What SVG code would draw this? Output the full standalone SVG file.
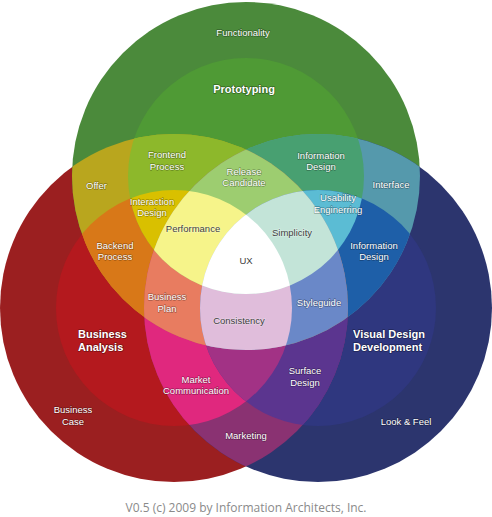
<svg xmlns="http://www.w3.org/2000/svg" width="492" height="517" viewBox="0 0 492 517">
<style>
.l{font-family:"Liberation Sans",Arial,sans-serif;font-size:9.5px;fill:#fff;text-anchor:middle;stroke:rgba(0,0,0,0.3);stroke-width:1.3px;paint-order:stroke;stroke-linejoin:round}
.b{font-family:"Liberation Sans",Arial,sans-serif;font-size:11px;font-weight:bold;fill:#fff;stroke:rgba(0,0,0,0.35);stroke-width:1.5px;paint-order:stroke;stroke-linejoin:round}
.d{font-family:"Liberation Sans",Arial,sans-serif;font-size:9.5px;fill:#404040;text-anchor:middle;stroke:rgba(255,255,255,0.4);stroke-width:1.2px;paint-order:stroke}
.f{font-family:"Open Sans","DejaVu Sans",sans-serif;font-size:12px;fill:#8a8a8a;text-anchor:middle}
</style>
<defs>
<clipPath id="cR1"><circle cx="174" cy="308" r="174"/></clipPath>
<clipPath id="cR2"><circle cx="174" cy="308" r="118"/></clipPath>
<clipPath id="cG1"><circle cx="246" cy="176" r="174"/></clipPath>
<clipPath id="cG2"><circle cx="246" cy="176" r="118"/></clipPath>
<clipPath id="cB1"><circle cx="318" cy="308" r="174"/></clipPath>
<clipPath id="cB2"><circle cx="318" cy="308" r="118"/></clipPath>
</defs>
<rect width="492" height="517" fill="#fff"/>
<g id="venn">
<!-- single -->
<circle cx="174" cy="308" r="174" fill="#9b1f20"/>
<circle cx="246" cy="176" r="174" fill="#4b8a3b"/>
<circle cx="318" cy="308" r="174" fill="#2c356e"/>
<circle cx="174" cy="308" r="118" fill="#b4191e"/>
<circle cx="246" cy="176" r="118" fill="#4f9a35"/>
<circle cx="318" cy="308" r="118" fill="#2f377f"/>
<!-- pairs big-big -->
<circle cx="174" cy="308" r="174" fill="#b9a61e" clip-path="url(#cG1)"/>
<circle cx="174" cy="308" r="174" fill="#8a3272" clip-path="url(#cB1)"/>
<circle cx="246" cy="176" r="174" fill="#5599ac" clip-path="url(#cB1)"/>
<!-- sum 3 -->
<circle cx="174" cy="308" r="118" fill="#d87818" clip-path="url(#cG1)"/>
<circle cx="174" cy="308" r="174" fill="#8db82b" clip-path="url(#cG2)"/>
<circle cx="174" cy="308" r="118" fill="#e0287e" clip-path="url(#cB1)"/>
<circle cx="174" cy="308" r="174" fill="#5b358f" clip-path="url(#cB2)"/>
<circle cx="246" cy="176" r="118" fill="#48a071" clip-path="url(#cB1)"/>
<circle cx="246" cy="176" r="174" fill="#1e5fa8" clip-path="url(#cB2)"/>
<g clip-path="url(#cB1)"><circle cx="174" cy="308" r="174" fill="#c07850" clip-path="url(#cG1)"/></g>
<!-- sum 4 -->
<circle cx="174" cy="308" r="118" fill="#d9c000" clip-path="url(#cG2)"/>
<circle cx="174" cy="308" r="118" fill="#a23285" clip-path="url(#cB2)"/>
<circle cx="246" cy="176" r="118" fill="#5bbcd4" clip-path="url(#cB2)"/>
<g clip-path="url(#cB1)"><circle cx="174" cy="308" r="118" fill="#e87c60" clip-path="url(#cG1)"/></g>
<g clip-path="url(#cB1)"><circle cx="174" cy="308" r="174" fill="#9dcd70" clip-path="url(#cG2)"/></g>
<g clip-path="url(#cB2)"><circle cx="174" cy="308" r="174" fill="#6a88c8" clip-path="url(#cG1)"/></g>
<!-- sum 5 -->
<g clip-path="url(#cB1)"><circle cx="174" cy="308" r="118" fill="#f6f48a" clip-path="url(#cG2)"/></g>
<g clip-path="url(#cB2)"><circle cx="174" cy="308" r="118" fill="#e0bddb" clip-path="url(#cG1)"/></g>
<g clip-path="url(#cB2)"><circle cx="174" cy="308" r="174" fill="#c3e4d8" clip-path="url(#cG2)"/></g>
<!-- sum 6 -->
<g clip-path="url(#cB2)"><circle cx="174" cy="308" r="118" fill="#ffffff" clip-path="url(#cG2)"/></g>
</g>
<g id="labels">
<text class="l" x="243" y="36">Functionality</text>
<text class="b" x="244" y="93" text-anchor="middle">Prototyping</text>
<text class="l" x="167" y="158">Frontend</text>
<text class="l" x="167" y="169.5">Process</text>
<text class="l" x="321" y="159">Information</text>
<text class="l" x="321" y="170">Design</text>
<text class="l" x="244" y="175">Release</text>
<text class="l" x="244" y="186">Candidate</text>
<text class="l" x="96.5" y="188.5">Offer</text>
<text class="l" x="391" y="188">Interface</text>
<text class="l" x="152" y="204.5">Interaction</text>
<text class="l" x="152" y="216">Design</text>
<text class="l" x="338" y="201">Usability</text>
<text class="l" x="338" y="212.5">Enginerring</text>
<text class="d" x="193" y="232">Performance</text>
<text class="d" x="292" y="236">Simplicity</text>
<text class="l" x="115" y="248.5">Backend</text>
<text class="l" x="115" y="259.5">Process</text>
<text class="l" x="374" y="248.5">Information</text>
<text class="l" x="374" y="259.5">Design</text>
<text class="d" x="246" y="263.5">UX</text>
<text class="l" x="167" y="300">Business</text>
<text class="l" x="167" y="311.5">Plan</text>
<text class="l" x="319" y="306">Styleguide</text>
<text class="d" x="239" y="324">Consistency</text>
<text class="b" x="78" y="338">Business</text>
<text class="b" x="78" y="351">Analysis</text>
<text class="b" x="353" y="338">Visual Design</text>
<text class="b" x="353" y="351">Development</text>
<text class="l" x="305" y="374">Surface</text>
<text class="l" x="305" y="385.5">Design</text>
<text class="l" x="196" y="383">Market</text>
<text class="l" x="196" y="394">Communication</text>
<text class="l" x="73" y="413">Business</text>
<text class="l" x="73" y="424.5">Case</text>
<text class="l" x="406" y="424.5">Look &amp; Feel</text>
<text class="l" x="246" y="438.5">Marketing</text>
<text class="f" x="246" y="512">V0.5 (c) 2009 by Information Architects, Inc.</text>
</g>
</svg>
